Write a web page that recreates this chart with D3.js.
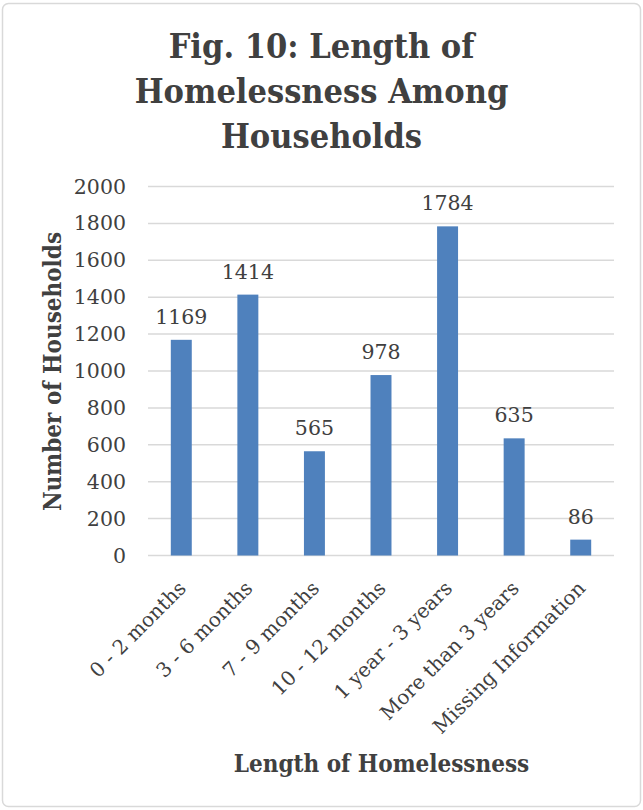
<!DOCTYPE html>
<html>
<head>
<meta charset="utf-8">
<script src="https://cdn.jsdelivr.net/npm/d3@7"></script>
<style>
  body { margin: 0; background: #fff; }
  svg text { fill: #404040; }
</style>
</head>
<body>
<div id="chart"></div>
<script>
const categories = ["0 - 2 months", "3 - 6 months", "7 - 9 months", "10 - 12 months",
  "1 year - 3 years", "More than 3 years", "Missing Information"]
const households = [1169, 1414, 565, 978, 1784, 635, 86]
const yTicks = [0, 200, 400, 600, 800, 1000, 1200, 1400, 1600, 1800, 2000]
const titleLines = ["Fig. 10: Length of", "Homelessness Among", "Households"]

const width = 643
const height = 810
const margin = { left: 148, right: 29, top: 186.5, bottom: 254.5 }
const serif = "'DejaVu Serif', serif"
const serifBold = "'DejaVu Serif Condensed', 'DejaVu Serif', serif"

const svg = d3.select("#chart").append("svg")
  .attr("width", width)
  .attr("height", height)

// outer frame
svg.append("rect")
  .attr("x", 2.5).attr("y", 3.5)
  .attr("width", width - 5).attr("height", height - 7)
  .attr("rx", 6)
  .attr("fill", "#fff")
  .attr("stroke", "#d9d9d9")
  .attr("stroke-width", 1.5)

// title
svg.append("g").selectAll("text")
  .data(titleLines)
  .enter()
  .append("text")
  .attr("x", 321.5)
  .attr("y", (d, i) => 58 + i * 45)
  .attr("text-anchor", "middle")
  .attr("font-family", serifBold)
  .attr("font-weight", "bold")
  .attr("font-size", 34)
  .text(d => d)

const x = d3.scaleBand().domain(categories).range([margin.left, width - margin.right]).paddingInner(0.685).paddingOuter(0.3425)
const y = d3.scaleLinear().domain([0, 2000]).range([height - margin.bottom, margin.top])

// gridlines
svg.append("g")
  .selectAll("line")
  .data(yTicks)
  .enter()
  .append("line")
  .attr("x1", margin.left).attr("x2", width - margin.right)
  .attr("y1", d => y(d)).attr("y2", d => y(d))
  .attr("stroke", "#d9d9d9")
  .attr("stroke-width", 1.5)

// y axis labels
const yAxis = svg.append("g")
  .attr("transform", "translate(" + (margin.left - 22) + ",0)")
  .call(d3.axisLeft(y).tickValues(yTicks).tickFormat(d3.format("d")).tickSize(0).tickPadding(0))
yAxis.select(".domain").remove()
yAxis.selectAll("text")
  .attr("font-family", serif)
  .attr("font-size", 20.5)
  .attr("fill", "#404040")

// bars
svg.append("g")
  .selectAll("rect")
  .data(households)
  .enter()
  .append("rect")
  .attr("x", (d, i) => x(categories[i]))
  .attr("y", d => y(d))
  .attr("width", x.bandwidth())
  .attr("height", d => y(0) - y(d))
  .attr("fill", "#4f81bd")

// data labels
svg.append("g")
  .selectAll("text")
  .data(households)
  .enter()
  .append("text")
  .attr("x", (d, i) => x(categories[i]) + x.bandwidth() / 2)
  .attr("y", d => y(d) - 16)
  .attr("text-anchor", "middle")
  .attr("font-family", serif)
  .attr("font-size", 20.5)
  .text(d => d)

// x axis labels
const xAxis = svg.append("g")
  .attr("transform", "translate(0," + (height - margin.bottom) + ")")
  .call(d3.axisBottom(x).tickSize(0).tickPadding(0))
xAxis.select(".domain").remove()
xAxis.selectAll("text")
  .attr("font-family", serif)
  .attr("font-size", 20)
  .attr("fill", "#404040")
  .attr("text-anchor", "end")
  .attr("dy", 0)
  .attr("transform", "translate(6,34) rotate(-45)")

// axis titles
svg.append("text")
  .attr("transform", "translate(61,371.5) rotate(-90)")
  .attr("text-anchor", "middle")
  .attr("font-family", serifBold)
  .attr("font-weight", "bold")
  .attr("font-size", 24)
  .text("Number of Households")

svg.append("text")
  .attr("x", 381.5)
  .attr("y", 772)
  .attr("text-anchor", "middle")
  .attr("font-family", serifBold)
  .attr("font-weight", "bold")
  .attr("font-size", 24)
  .text("Length of Homelessness")
</script>
</body>
</html>
